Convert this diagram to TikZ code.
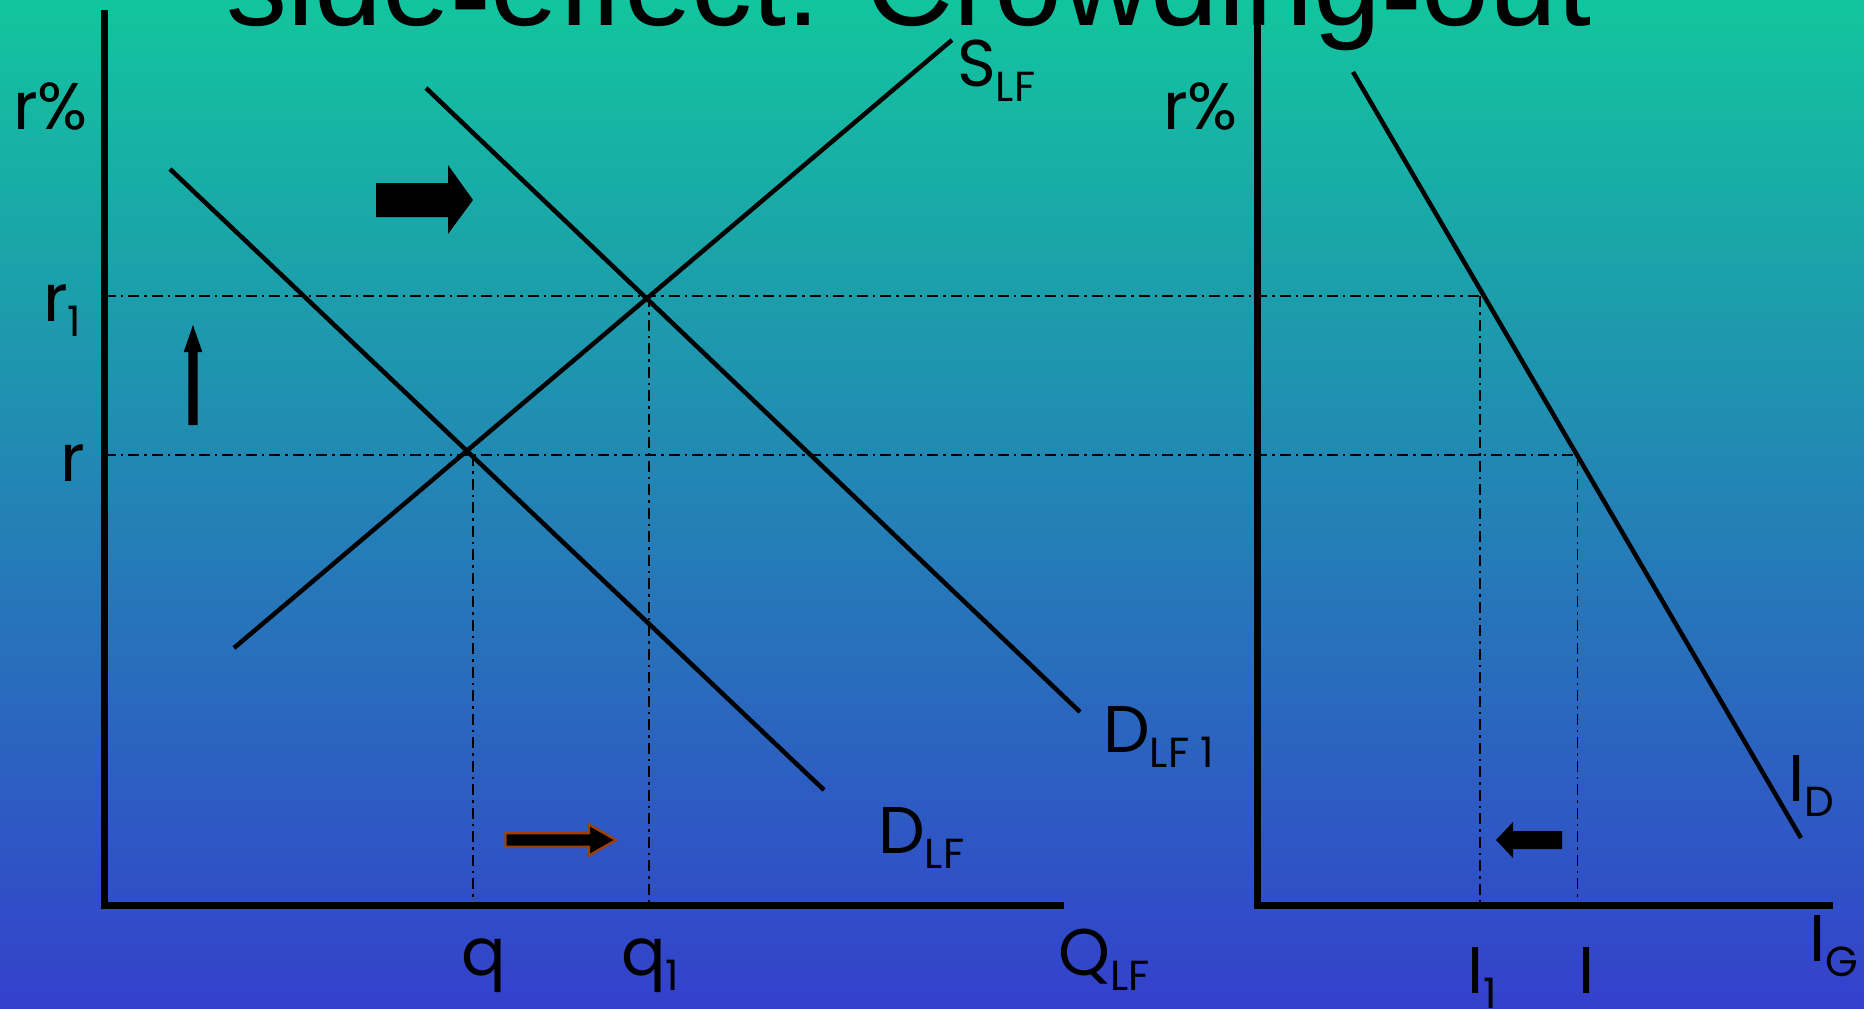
\documentclass[tikz,border=0pt]{standalone}
\usepackage{fontspec}
\setmainfont{Poppins}
\newfontfamily\titlefont{Liberation Sans}
\definecolor{bgtop}{RGB}{18,197,158}
\definecolor{bgbot}{RGB}{52,64,204}
\definecolor{rust}{RGB}{160,64,0}
\newcommand{\sublbl}[2]{#1\raisebox{-15pt}{\fontsize{42}{42}\selectfont #2}}
\newcommand{\lowdash}{\raisebox{-13pt}{-}}
\begin{document}
\begin{tikzpicture}[x=1pt, y=-1pt,
    axis/.style={line width=7pt},
    curve/.style={line width=4.5pt},
    guide/.style={line width=1.8pt, dash pattern=on 11pt off 5pt on 2.5pt off 5pt},
    lbl/.style={inner sep=0pt, anchor=base west, font=\fontsize{66}{70}\selectfont},
    shiftarrow/.style={fill=black}
]
\useasboundingbox (0,0) rectangle (1864,1009);
\clip (0,0) rectangle (1864,1009);
\shade[top color=bgtop, bottom color=bgbot] (0,0) rectangle (1864,1009);

% Titlu (taiat sus)
\node[inner sep=0pt, anchor=base west, font=\titlefont\fontsize{122}{124}\selectfont]
    (title) at (226,25) {side\lowdash effect:  Crowding\lowdash out};

% Curbe
\coordinate (sA) at (234,648);  \coordinate (sB) at (952,40);
\coordinate (dA) at (170,169);  \coordinate (dB) at (824,790);
\coordinate (nA) at (426,88);   \coordinate (nB) at (1080,712);
\coordinate (iA) at (1353,72);  \coordinate (iB) at (1801,838);

% Axe
\coordinate (o)  at (104.6,905);
\coordinate (oR) at (1257,905);

% Echilibre si puncte pe I_D
\coordinate (e0) at (473,455);
\coordinate (e1) at (649,296);
\coordinate (g0) at (1577.5,455);
\coordinate (g1) at (1480,296);

% Linii de ghidaj
\draw[guide] (e1 -| o) -- (g1);
\draw[guide] (e0 -| o) -- (g0);
\draw[guide] (e0) -- (e0 |- o);
\draw[guide] (e1) -- (e1 |- o);
\draw[guide] (g1) -- (g1 |- o);
\draw[guide] (g0) -- (g0 |- o);

\draw[curve] (sA) -- (sB);
\draw[curve] (dA) -- (dB);
\draw[curve] (nA) -- (nB);
\draw[curve] (iA) -- (iB);

\draw[axis] (104.6,9.5) -- (o) -- (1064,905);
\draw[axis] (1257,0) -- (oR) -- (1833,905);

% Săgeți
\fill[shiftarrow] (376,183) -- (448,183) -- (448,165) -- (473,200)
    -- (448,234) -- (448,217) -- (376,217) -- cycle;
\fill[shiftarrow] (188.3,425) -- (188.3,352) -- (183.7,352) -- (193,325)
    -- (202.3,352) -- (197.7,352) -- (197.7,425) -- cycle;
\filldraw[shiftarrow, draw=rust, line width=2.4pt] (505.5,833.2) -- (589,833.2) -- (589,824.5)
    -- (616,840) -- (589,855.5) -- (589,846.8) -- (505.5,846.8) -- cycle;
\fill[shiftarrow] (1562,831) -- (1513,831) -- (1513,822) -- (1496,840)
    -- (1513,858) -- (1513,849) -- (1562,849) -- cycle;

% Etichete
\node[lbl] (rpL)  at (13,129)   {r\%};
\node[lbl] (r1)   at (43,321)   {\sublbl{r}{1}};
\node[lbl] (r0)   at (60,481)   {r};
\node[lbl] (slf)  at (957,86)   {\sublbl{S}{LF}};
\node[lbl] (dlf1) at (1103,752) {\sublbl{D}{LF 1}};
\node[lbl] (dlf)  at (878,853)  {\sublbl{D}{LF}};
\node[lbl] (q0)   at (461,975)  {q};
\node[lbl] (q1)   at (621,975)  {\sublbl{q}{1}};
\node[lbl] (qlf)  at (1058,975) {\sublbl{Q}{LF}};
\node[lbl] (rpR)  at (1163,129) {r\%};
\node[lbl] (id)   at (1788,801) {\sublbl{I}{D}};
\node[lbl] (ig)   at (1809,961) {\sublbl{I}{G}};
\node[lbl] (i1)   at (1467,993) {\sublbl{I}{1}};
\node[lbl] (i0)   at (1578,993) {I};

\end{tikzpicture}
\end{document}
